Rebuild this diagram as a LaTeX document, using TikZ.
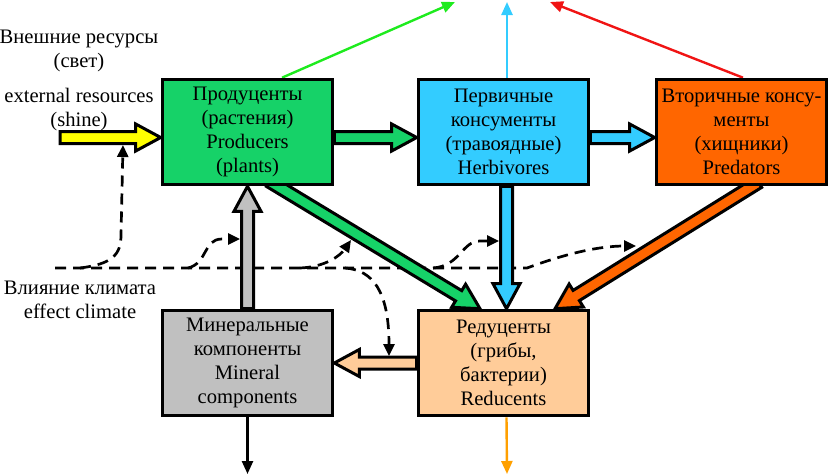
\documentclass[tikz,border=0pt]{standalone}
\usepackage{fontspec}
\setmainfont{Liberation Serif}
\usetikzlibrary{arrows.meta,calc}

\definecolor{prodgreen}{RGB}{22,210,104}
\definecolor{herbcyan}{RGB}{51,204,255}
\definecolor{predorange}{RGB}{255,102,0}
\definecolor{mingray}{RGB}{192,192,192}
\definecolor{reducpeach}{RGB}{255,204,153}
\definecolor{sunyellow}{RGB}{255,255,0}
\definecolor{linegreen}{RGB}{30,235,30}
\definecolor{linered}{RGB}{240,20,20}
\definecolor{lineorange}{RGB}{255,160,0}

\pgfdeclarelayer{back}
\pgfsetlayers{back,main}

% block arrow with an outline: colour, from, to
\newcommand\fatarrow[3]{%
  \path ($(#3)!25pt!(#2)$) coordinate (fh);
  \draw[fatline,fill=#1]
    ($(#2)!6pt!90:(#3)$) -- ($(fh)!6pt!90:(#3)$) -- ($(fh)!13.5pt!90:(#3)$) --
    (#3) -- ($(fh)!13.5pt!-90:(#3)$) -- ($(fh)!6pt!-90:(#3)$) --
    ($(#2)!6pt!-90:(#3)$) -- cycle;}

\begin{document}
\begin{tikzpicture}[x=1pt,y=-1pt,
    every node/.style={font=\fontsize{20.6}{24}\selectfont},
    unit/.style={draw,line width=3.6pt,minimum width=170pt,minimum height=105pt,inner sep=0pt,align=center},
    fatline/.style={line width=3pt,line join=miter},
    flow/.style={line width=2.4pt,-{Triangle[length=13pt,width=11pt]}},
    influence/.style={line width=2.7pt,dash pattern=on 11pt off 7pt,-{Triangle[length=12pt,width=11pt]}}]

    \useasboundingbox (0,0) rectangle (829,475);

    % Trophic levels
    \node[unit,fill=prodgreen] (prod) at (247.5,132) {Продуценты\\(растения)\\Producers\\(plants)};
    \node[unit,fill=herbcyan] (herb) at (503.5,132) {Первичные\\консументы\\(травоядные)\\Herbivores};
    \node[unit,fill=predorange] (pred) at (741.5,132) {Вторичные консу-\\менты\\(хищники)\\Predators};
    \node[unit,fill=mingray] (mineral) at (247.5,363) {Минеральные\\компоненты\\Mineral\\components};
    \node[unit,fill=reducpeach] (reduc) at (503.5,363) {Редуценты\\(грибы,\\бактерии)\\Reducents};

    % End points of the connectors
    \coordinate (sun) at (60,137.5);
    \coordinate (prod-in) at (prod.west |- sun);
    \coordinate (prod-out) at (prod.east |- sun);
    \coordinate (herb-in) at (herb.west |- sun);
    \coordinate (herb-out) at (herb.east |- sun);
    \coordinate (pred-in) at (pred.west |- sun);
    \coordinate (prod-dia) at ([xshift=22pt,yshift=5pt]prod.south);
    \coordinate (reduc-g) at ([xshift=-23.5pt]reduc.north);
    \coordinate (herb-dn) at ([xshift=3pt]herb.south);
    \coordinate (reduc-c) at ([xshift=3pt]reduc.north);
    \coordinate (pred-dia) at ([xshift=17pt,yshift=4pt]pred.south);
    \coordinate (reduc-o) at ([xshift=51.5pt]reduc.north);
    \coordinate (out-g) at (455,2);
    \coordinate (out-c) at (507,2);
    \coordinate (out-r) at (550,2);
    \coordinate (out-m) at (247.5,474);
    \coordinate (out-o) at (507,474);

    \begin{pgfonlayer}{back}
    % Outside labels
    \node[align=center] (res-ru) at (79,51) {Внешние ресурсы\\(свет)};
    \node[align=center] (res-en) at (79,110) {external resources\\(shine)};
    \node[align=center] (clim) at (80,300) {Влияние климата\\effect climate};

    % Climate influence
    \draw[influence] (55,268) -- (527,268) .. controls (565,254) and (598,246) .. (636,246);
    \draw[influence] (80,268) .. controls (112,264) and (121,255) .. (121,235) -- (123,145);
    \draw[influence] (188,268) .. controls (208,263) and (203,239) .. (222,239) -- (240,239);
    \draw[influence] (300,268) .. controls (325,267) and (340,256) .. (351,240);
    \draw[influence] (345,268) .. controls (372,270) and (389,290) .. (389,356);
    \draw[influence] (433,268) .. controls (460,266) and (462,241) .. (480,241) -- (499,241);

    % Matter and energy flows
    \fatarrow{sunyellow}{sun}{prod-in}
    \fatarrow{prodgreen}{prod-out}{herb-in}
    \fatarrow{herbcyan}{herb-out}{pred-in}
    \fatarrow{prodgreen}{prod-dia}{reduc-g}
    \fatarrow{herbcyan}{herb-dn}{reduc-c}
    \fatarrow{predorange}{pred-dia}{reduc-o}
    \fatarrow{reducpeach}{reduc.west}{mineral.east}
    \fatarrow{mingray}{mineral.north}{prod.south}

    % Losses
    \draw[flow,linegreen] ([xshift=34.5pt]prod.north) -- (out-g);
    \draw[flow,herbcyan] ([xshift=3.5pt]herb.north) -- (out-c);
    \draw[flow,linered] ([xshift=1.5pt]pred.north) -- (out-r);
    \draw[flow,black] (mineral.south) -- (out-m);
    \draw[flow,lineorange] ([xshift=3pt]reduc.south) -- (out-o);
    \end{pgfonlayer}

\end{tikzpicture}
\end{document}
